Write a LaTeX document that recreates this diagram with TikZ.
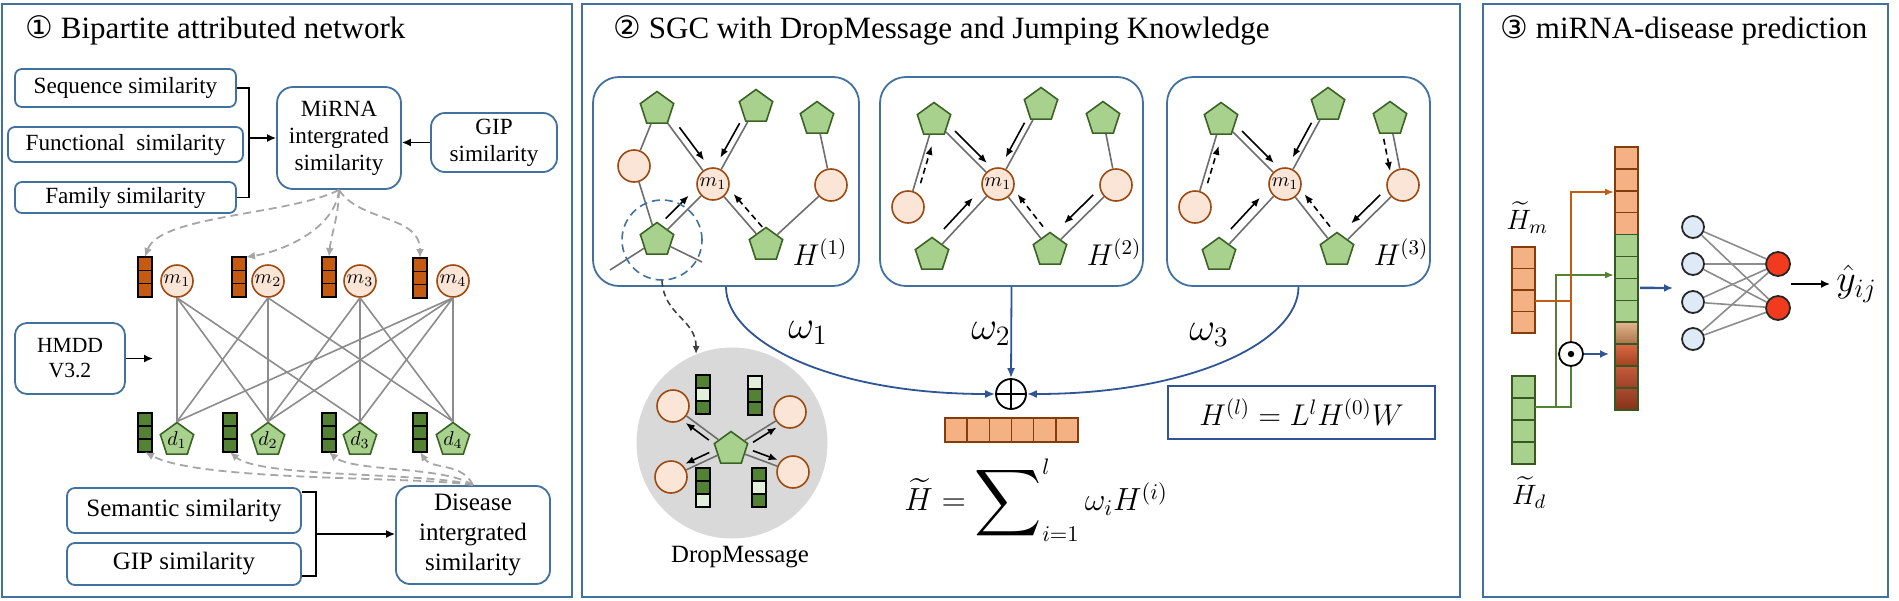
\RequirePackage{fix-cm}
\documentclass[tikz,border=0pt]{standalone}
\usepackage{amsmath}
\usepackage{exscale}
\usepackage{graphicx}
\usepackage{fontspec}
\setmainfont{Liberation Serif}
\newfontfamily\circfont{DejaVu Sans}
\usetikzlibrary{shapes.geometric,arrows.meta,calc}
\definecolor{pborder}{HTML}{41719C}
\definecolor{wblue}{HTML}{2F5597}
\definecolor{mfill}{HTML}{FBE5D6}
\definecolor{mdraw}{HTML}{9C4A12}
\definecolor{pfill}{HTML}{A9D18E}
\definecolor{pdraw}{HTML}{3B6325}
\definecolor{obar}{HTML}{C55A11}
\definecolor{gbar}{HTML}{548235}
\definecolor{lgbar}{HTML}{E2F0D9}
\definecolor{ocell}{HTML}{F4B183}
\definecolor{odraw}{HTML}{843C0C}
\definecolor{gdraw}{HTML}{385723}
\definecolor{edgegray}{HTML}{8C8C8C}
\definecolor{gedgecol}{HTML}{6E6E6E}
\definecolor{dashgray}{HTML}{A6A6A6}
\definecolor{dkgray}{HTML}{404040}
\definecolor{dmgray}{HTML}{D9D9D9}
\definecolor{nnblue}{HTML}{DEEBF7}
\definecolor{nnred}{HTML}{F23A1E}
\definecolor{nndraw}{HTML}{262626}
\definecolor{cA}{HTML}{E3B58E}
\definecolor{cB}{HTML}{A9744A}
\definecolor{cC}{HTML}{DA6A45}
\definecolor{cD}{HTML}{A2401F}
\definecolor{cE}{HTML}{C45B3C}
\definecolor{cF}{HTML}{9E4126}
\definecolor{cG}{HTML}{A84B30}
\definecolor{cH}{HTML}{873218}
% name, x, y (top-left, px), width, cell height, number of cells, fills, draw colour
\newcommand{\cellbar}[8]{%
  \node[inner sep=0pt,outer sep=0pt,minimum width=#4*0.5pt,minimum height=#5*#6*0.5pt,anchor=north west] (#1) at (#2,#3) {};
  \foreach \ff [count=\kk from 0] in {#7} {
    \draw[draw=#8,fill=\ff,line width=0.75pt] (#2,#3+\kk*#5) rectangle ++(#4,#5);
  }}
% style, from, to, start factor, end factor, side offset
\newcommand{\parr}[6]{\draw[#1] ($(#2)!#4!(#3)!#6!90:(#3)$) -- ($(#2)!#5!(#3)!#6!90:(#3)$);}
\begin{document}
\begin{tikzpicture}[x=0.5pt,y=-0.5pt,
  panel/.style={draw=pborder,line width=1pt},
  sbox/.style={draw=pborder,line width=0.9pt,fill=white,align=center,inner sep=0pt,font=\fontsize{11.6}{13.5}\selectfont},
  lbox/.style={sbox,font=\fontsize{12.5}{15}\selectfont},
  title/.style={font=\fontsize{15.5}{18}\selectfont,anchor=base west,inner sep=0pt},
  blk/.style={line width=0.8pt,draw=black},
  arr/.style={blk,-{Latex[length=4.5pt,width=4pt]}},
  mnode/.style={circle,draw=mdraw,fill=mfill,line width=0.8pt,minimum size=16pt,inner sep=0pt,font=\fontsize{10}{12}\selectfont},
  pnode/.style={regular polygon,regular polygon sides=5,draw=pdraw,fill=pfill,line width=0.8pt,minimum size=17.5pt,inner sep=0pt,font=\fontsize{10}{12}\selectfont},
  bedge/.style={draw=edgegray,line width=0.8pt},
  dasharr/.style={draw=dashgray,line width=0.9pt,dash pattern=on 4pt off 2.5pt,-{Latex[length=4.5pt,width=4pt]}},
  gbox/.style={draw=pborder,line width=0.9pt,rounded corners=13pt,fill=white,minimum height=104.5pt,inner sep=0pt},
  gedge/.style={draw=gedgecol,line width=0.8pt},
  garr/.style={line width=0.8pt,-{Latex[length=4.5pt,width=3.6pt]}},
  gdash/.style={garr,dash pattern=on 3pt off 2pt},
  hlab/.style={font=\fontsize{15}{18}\selectfont,inner sep=0pt},
  warr/.style={draw=wblue,line width=0.9pt,-{Latex[length=5pt,width=4pt]}},
  wlab/.style={font=\fontsize{20}{24}\selectfont,inner sep=0pt},
  dkdash/.style={draw=dkgray,line width=0.8pt,dash pattern=on 3pt off 2pt,-{Latex[length=4pt,width=3.5pt]}},
  oline/.style={draw=obar,line width=1pt},
  gline/.style={draw=gbar,line width=1pt},
  ctip/.style={-{Latex[length=4.5pt,width=3.5pt]}},
  barr/.style={draw=wblue,line width=1.2pt,-{Latex[length=4.5pt,width=4pt]}},
  nin/.style={circle,draw=nndraw,fill=nnblue,line width=0.9pt,minimum size=11pt,inner sep=0pt},
  nout/.style={circle,draw=nndraw,fill=nnred,line width=0.9pt,minimum size=12pt,inner sep=0pt},
  nnedge/.style={draw=edgegray,line width=0.8pt}
]
\useasboundingbox[fill=white] (0,0) rectangle (1899,600);
% ---------------- panels
\draw[panel] (2,4) rectangle (572,597);
\draw[panel] (582,4) rectangle (1460,597);
\draw[panel] (1483,4) rectangle (1888,597);
\node[title] (t1) at (25,38) {{\circfont ①} Bipartite attributed network};
\node[title] (t2) at (613,38) {{\circfont ②} SGC with DropMessage and Jumping Knowledge};
\node[title] (t3) at (1500,38) {{\circfont ③} miRNA-disease prediction};

% ---------------- panel 1
\node[sbox,rounded corners=3.5pt,minimum width=110.5pt,minimum height=19pt] (seq) at (125.5,88) {Sequence similarity};
\node[sbox,rounded corners=3.5pt,minimum width=117.5pt,minimum height=17.5pt] (fun) at (125.5,144.5) {Functional\ \ similarity};
\node[sbox,rounded corners=3.5pt,minimum width=110.5pt,minimum height=15.5pt] (fam) at (125.5,197.5) {Family similarity};
\node[sbox,rounded corners=8pt,minimum width=62pt,minimum height=51pt] (mir) at (339,138) {MiRNA\\intergrated\\similarity};
\node[sbox,rounded corners=7pt,minimum width=63pt,minimum height=29.5pt] (gip) at (494,142.5) {GIP\\similarity};
\coordinate (brk1) at (249,138);
\draw[blk] (seq.east) -| (brk1) |- (fam.east);
\draw[arr] (brk1) -- (mir.west);
\draw[arr] (gip.west) -- (gip.west -| mir.east);

\node[sbox,rounded corners=6pt,font=\fontsize{10.8}{12.5}\selectfont,minimum width=55pt,minimum height=35.5pt] (hmdd) at (70,358.5) {HMDD\\V3.2};
\coordinate (hmddend) at (153,358.5);
\draw[arr] (hmdd.east) -- (hmddend);

\node[lbox,rounded corners=4pt,minimum width=117pt,minimum height=22.5pt] (sem) at (184,510.5) {Semantic similarity};
\node[lbox,rounded corners=4pt,minimum width=117pt,minimum height=21pt] (gip2) at (184,564) {GIP similarity};
\node[lbox,rounded corners=7pt,minimum width=77pt,minimum height=49pt] (dis) at (473,535) {Disease\\intergrated\\similarity};
\coordinate (brk2) at (316,534);
\draw[blk] ($(sem.north east)+(0,5)$) -| (brk2) |- ($(gip2.south east)+(0,-10)$);
\draw[arr] (brk2) -- (brk2 -| dis.west);

\foreach \i/\x in {1/177,2/268,3/360,4/453} {
  \node[mnode] (m\i) at (\x,281) {$m_{\i}$};
  \node[pnode] (d\i) at (\x,440) {$d_{\i}$};
}
\cellbar{ob1}{138}{257}{14}{13.33}{3}{obar,obar,obar}{black}
\cellbar{ob2}{232}{257}{14}{13.33}{3}{obar,obar,obar}{black}
\cellbar{ob3}{322}{257}{14}{13.33}{3}{obar,obar,obar}{black}
\cellbar{ob4}{413}{258}{14}{13.33}{3}{obar,obar,obar}{black}
\cellbar{gb1}{138}{413}{14}{13}{3}{gbar,gbar,gbar}{black}
\cellbar{gb2}{223}{413}{14}{13}{3}{gbar,gbar,gbar}{black}
\cellbar{gb3}{322}{413}{14}{13}{3}{gbar,gbar,gbar}{black}
\cellbar{gb4}{413}{413}{14}{13}{3}{gbar,gbar,gbar}{black}
\foreach \a/\b in {1/1,1/2,1/3,2/1,2/2,2/4,3/2,3/3,3/4,4/1,4/2,4/3,4/4}
  \draw[bedge] (m\a.south) -- (d\b.corner 1);

\draw[dasharr] (mir.south) .. controls (290,215) and (160,215) .. (ob1.north);
\draw[dasharr] (mir.south) .. controls (335,230) and (280,252) .. (ob2.north east);
\draw[dasharr] (mir.south) .. controls (339,215) and (331,235) .. (ob3.north);
\draw[dasharr] (mir.south) .. controls (360,222) and (420,215) .. (ob4.north);
\draw[dasharr] (dis.north) .. controls (420,476) and (200,482) .. (gb1.south);
\draw[dasharr] (dis.north) .. controls (430,472) and (260,478) .. (gb2.south);
\draw[dasharr] (dis.north) .. controls (445,466) and (352,472) .. (gb3.south);
\draw[dasharr] (dis.north) .. controls (462,462) and (432,470) .. (gb4.south);

% ---------------- panel 2 : graph box 1
\node[gbox,minimum width=133pt] (b1) at (726,181.5) {};
\node[pnode] (tl1) at (657,109) {};
\node[pnode] (tm1) at (756,107) {};
\node[pnode] (tr1) at (817,119) {};
\node[mnode] (lc1) at (634,166) {};
\node[mnode] (m1g) at (713,184) {$m_1$};
\node[mnode] (rc1) at (831,185) {};
\node[pnode] (bl1) at (657,240) {};
\node[pnode] (bm1) at (766,245) {};
\coordinate (tailA) at (610,270);
\coordinate (tailB) at (702,262);
\node[hlab] (h1) at (820,252) {$H^{(1)}$};
\draw[gedge] (tl1) -- (lc1) (tl1) -- (m1g) (tm1) -- (m1g) (tr1) -- (rc1) (lc1) -- (bl1)
  (bl1) -- (m1g) (m1g) -- (bm1) (bm1) -- (rc1) (bl1) -- (tailA) (bl1) -- (tailB);
\parr{garr}{tl1}{m1g}{0.30}{0.74}{3.5pt}
\parr{garr}{tm1}{m1g}{0.25}{0.70}{-3.2pt}
\parr{garr}{bl1}{m1g}{0.27}{0.68}{4.5pt}
\parr{gdash}{bm1}{m1g}{0.20}{0.74}{-4.5pt}
\node[circle,draw=pborder,dash pattern=on 4pt off 2.5pt,line width=0.8pt,minimum size=40pt,inner sep=0pt] (dcir) at (662,240) {};

% ---------------- graph boxes 2 and 3
\foreach \g/\dx in {2/0,3/287} {
 \begin{scope}[shift={(\dx,0)}]
  \node[gbox,minimum width=131.5pt] (b\g) at (1011.5,181.5) {};
  \node[pnode] (tl\g) at (934,120) {};
  \node[pnode] (tm\g) at (1041,105) {};
  \node[pnode] (tr\g) at (1103,119) {};
  \node[mnode] (lc\g) at (908,207) {};
  \node[mnode] (m\g g) at (998,184) {$m_1$};
  \node[mnode] (rc\g) at (1116,185) {};
  \node[pnode] (bl\g) at (932,255) {};
  \node[pnode] (bm\g) at (1050,250) {};
  \node[hlab] (h\g) at (1114,252) {$H^{(\g)}$};
  \draw[gedge] (lc\g) -- (tl\g) (tl\g) -- (m\g g) (tm\g) -- (m\g g) (tr\g) -- (rc\g)
    (bl\g) -- (m\g g) (m\g g) -- (bm\g) (bm\g) -- (rc\g);
  \parr{gdash}{lc\g}{tl\g}{0.29}{0.72}{-2.6pt}
  \parr{garr}{tl\g}{m\g g}{0.25}{0.75}{3.5pt}
  \parr{garr}{tm\g}{m\g g}{0.26}{0.70}{-3pt}
  \parr{garr}{bl\g}{m\g g}{0.28}{0.72}{4.5pt}
  \parr{gdash}{bm\g}{m\g g}{0.27}{0.76}{-4.5pt}
  \parr{garr}{rc\g}{bm\g}{0.25}{0.69}{-4.5pt}
 \end{scope}
}
\parr{gdash}{tr3}{rc3}{0.27}{0.76}{-5pt}

% ---------------- DropMessage
\node[circle,fill=dmgray,minimum size=95.5pt,inner sep=0pt] (dmc) at (732,443) {};
\node[pnode] (dp) at (731,449) {};
\node[mnode] (dc1) at (673,406) {};
\node[mnode] (dc2) at (790,412) {};
\node[mnode] (dc3) at (671,477) {};
\node[mnode] (dc4) at (793,472) {};
\draw[gedge] (dp) -- (dc1) (dp) -- (dc2) (dp) -- (dc3) (dp) -- (dc4);
\cellbar{db1}{696}{375}{14}{13}{3}{gbar,lgbar,gbar}{black}
\cellbar{db2}{748}{376}{14}{13}{3}{lgbar,gbar,gbar}{black}
\cellbar{db3}{696}{468}{14}{13}{3}{gbar,gbar,lgbar}{black}
\cellbar{db4}{752}{468}{14}{13}{3}{gbar,lgbar,gbar}{black}
\parr{garr}{dp}{dc1}{0.32}{0.72}{3pt}
\parr{garr}{dp}{dc2}{0.32}{0.72}{-3pt}
\parr{garr}{dp}{dc3}{0.32}{0.72}{-3pt}
\parr{garr}{dp}{dc4}{0.32}{0.72}{3pt}
\node[font=\fontsize{12.4}{14}\selectfont,inner sep=0pt] (dmlab) at (740,557) {DropMessage};
\draw[dkdash] (dcir.south) .. controls +(2,35) and +(0,-35) .. (dmc.112);

% ---------------- aggregation
\node[circle,draw,line width=0.9pt,minimum size=15pt,inner sep=0pt] (op) at (1011,394) {};
\draw[line width=0.9pt] (op.north) -- (op.south) (op.west) -- (op.east);
\draw[warr] (b1.south) .. controls +(0,54) and +(-166,0) .. (op.west);
\draw[warr] (b2.south) -- (op.north);
\draw[warr] (b3.south) .. controls +(0,54) and +(166,0) .. (op.east);
\node[wlab] (w1) at (808,333) {$\omega_1$};
\node[wlab] (w2) at (991,334) {$\omega_2$};
\node[wlab] (w3) at (1209,335) {$\omega_3$};
\node[inner sep=0pt,minimum width=66.5pt,minimum height=12pt] (hb) at (1011.5,430) {};
\foreach \k in {0,...,5}
  \draw[draw=odraw,fill=ocell,line width=0.75pt] (945+\k*22.17,418) rectangle ++(22.17,24);
\node[font=\fontsize{16}{19}\selectfont,inner sep=0pt] (fml) at (1036,500)
  {$\widetilde{H}=\mathop{\vcenter{\hbox{\scalebox{1.35}{$\displaystyle\sum$}}}}\nolimits_{i=1}^{l}\omega_i H^{(i)}$};
\node[draw=wblue,line width=1pt,minimum width=133.5pt,minimum height=26.5pt,font=\fontsize{15}{18}\selectfont] (eq) at (1301.5,412.5) {$H^{(l)}=L^{l}H^{(0)}W$};

% ---------------- panel 3
\cellbar{hm}{1512}{247}{23}{21.5}{4}{ocell,ocell,ocell,ocell}{odraw}
\cellbar{hd}{1512}{376}{23}{22}{4}{pfill,pfill,pfill,pfill}{gdraw}
\cellbar{cc}{1615}{147}{23}{21.9}{12}{ocell,ocell,ocell,ocell}{odraw}
\cellbar{ccg}{1615}{234.6}{23}{21.9}{4}{pfill,pfill,pfill,pfill}{gdraw}
\foreach \k/\tc/\bc in {8/cA/cB,9/cC/cD,10/cE/cF,11/cG/cH} {
  \shade[top color=\tc,bottom color=\bc] (1615,147+\k*21.9) rectangle ++(23,21.9);
  \draw[draw=gdraw,line width=0.75pt] (1615,147+\k*21.9) rectangle ++(23,21.9);
}
\node[font=\fontsize{14}{16}\selectfont,inner sep=0pt] (lhm) at (1527,218) {$\widetilde{H}_m$};
\node[font=\fontsize{14}{16}\selectfont,inner sep=0pt] (lhd) at (1529,493) {$\widetilde{H}_d$};
\node[circle,draw,line width=0.9pt,minimum size=12pt,inner sep=0pt] (od) at (1571,354) {};
\fill (od) circle (1.6pt);
\coordinate (gj) at (1556,407);
\draw[gline] ($(hd.east)+(0,-13)$) -| (od.south);
\draw[gline,ctip] (gj) |- ($(cc.north west)+(-1,128)$);
\draw[oline] ($(hm.east)+(0,11)$) -| (od.north);
\draw[oline,ctip] (od.north) |- ($(cc.north west)+(-1,45)$);
\draw[barr,shorten >=3pt] (od.east) -- (od.east -| cc.west);
\coordinate (nnin) at (1673,288);
\draw[barr] ($(cc.east)+(2,9.5)$) -- (nnin);
\node[nin] (i1) at (1693,227) {};
\node[nin] (i2) at (1693,264) {};
\node[nin] (i3) at (1693,302) {};
\node[nin] (i4) at (1693,339) {};
\node[nout] (o1) at (1778,264) {};
\node[nout] (o2) at (1778,308) {};
\foreach \i in {1,2,3,4} \foreach \o in {1,2} \draw[nnedge] (i\i) -- (o\o);
\node[font=\fontsize{19}{22}\selectfont,inner sep=0pt,anchor=west] (yh) at (1836,284) {$\hat{y}_{ij}$};
\draw[arr] ($(o1)!0.5!(o2)+(13,-2)$) -- ($(yh.west)+(-6,0)$);
\end{tikzpicture}
\end{document}
